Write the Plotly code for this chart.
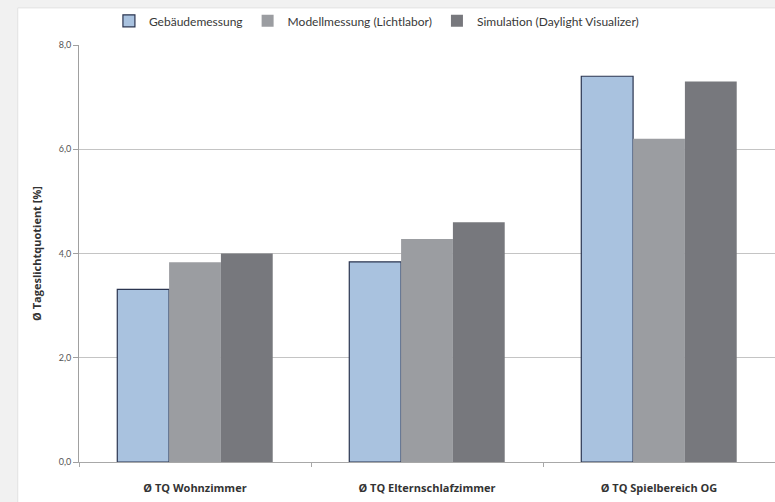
import plotly.graph_objects as go

categories = ["Ø TQ Wohnzimmer", "Ø TQ Elternschlafzimmer", "Ø TQ Spielbereich OG"]
series_names = ["Gebäudemessung", "Modellmessung (Lichtlabor)", "Simulation (Daylight Visualizer)"]
gebaeude = [3.31, 3.84, 7.40]
modell = [3.83, 4.28, 6.20]
simulation = [4.00, 4.60, 7.30]
y_ticks = [0, 2, 4, 6, 8]

colors = ["#a9c2df", "#9b9da1", "#77787d"]
line_colors = ["#2b3550", "#9b9da1", "#77787d"]
line_widths = [1.2, 0, 0]

fig = go.Figure()
for name, vals, c, lc, lw in zip(series_names, [gebaeude, modell, simulation], colors, line_colors, line_widths):
    fig.add_trace(go.Bar(x=categories, y=vals, name=name,
                         marker=dict(color=c, line=dict(color=lc, width=lw))))

# white panel on grey backdrop
fig.add_shape(type="rect", xref="paper", yref="paper", x0=-0.088, x1=1.2, y0=-0.3, y1=1.089,
              fillcolor="white", line=dict(color="#e2e2e2", width=1), layer="below")

fig.update_layout(
    width=775, height=502,
    margin=dict(l=79, r=0, t=45, b=40, autoexpand=False),
    paper_bgcolor="#f1f1f1", plot_bgcolor="rgba(0,0,0,0)",
    barmode="group", bargap=0.33, bargroupgap=0,
    separators=",.",
    font=dict(family="Lato, Open Sans, sans-serif", color="#444444"),
    showlegend=True,
    legend=dict(orientation="h", x=0.043, y=1.058, xanchor="left", yanchor="middle",
                font=dict(size=12, color="#383838"), itemwidth=30,
                bgcolor="rgba(0,0,0,0)", traceorder="normal"),
    yaxis=dict(range=[0, 8], tickvals=y_ticks, tickformat=".1f", automargin=False,
               showgrid=True, gridcolor="#c4c4c4", gridwidth=1,
               showline=True, linecolor="#a0a0a0", linewidth=1,
               ticks="outside", ticklen=5, tickcolor="#a0a0a0",
               tickfont=dict(size=9, color="#555555"),
               title=dict(text="Ø Tageslichtquotient [%]", font=dict(size=11, color="#333333", family="Open Sans, sans-serif"),
                          standoff=14),
               zeroline=False),
    xaxis=dict(showline=True, linecolor="#a8a8a8", linewidth=1, automargin=False,
               ticks="outside", tickson="boundaries", ticklen=4, tickcolor="#a8a8a8",
               ticklabelstandoff=16,
               tickfont=dict(size=11, color="#333333", family="Open Sans, sans-serif"),
               showgrid=False),
)
fig.update_xaxes(tickfont_weight="bold")
fig.update_yaxes(title_font_weight="bold")

fig.write_html("out.html", config={"displayModeBar": False},
               post_script="document.body.style.margin='0';document.body.style.background='#f1f1f1';document.body.style.overflow='hidden';")
